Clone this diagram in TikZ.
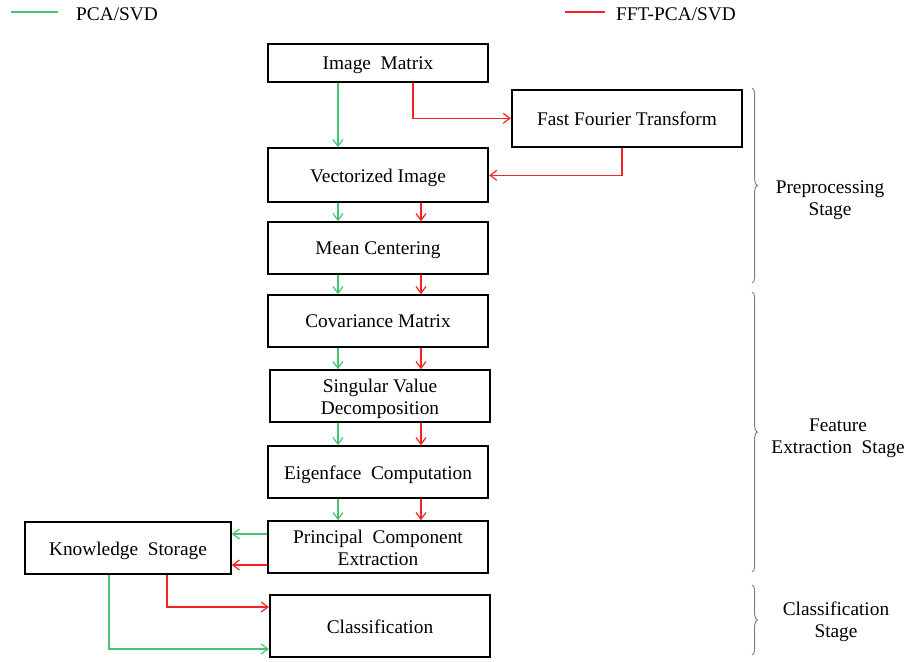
\documentclass[tikz,border=0pt]{standalone}
\usepackage{fontspec}
\setmainfont{Liberation Serif}
\usetikzlibrary{decorations.pathreplacing,arrows.meta}

\definecolor{pcagreen}{RGB}{70,195,115}
\definecolor{fftred}{RGB}{245,35,35}

\begin{document}
\begin{tikzpicture}[x=0.75pt, y=-0.75pt, font=\fontsize{14.5}{16.5}\selectfont,
	box/.style={draw, line width=1.7pt, minimum width=165pt, minimum height=39pt, align=center, inner sep=2pt, text depth=0pt, yshift=-1pt},
	tip/.style={-{Straight Barb[length=5pt, width=7.5pt]}},
	pca/.style={color=pcagreen, line width=0.9pt},
	fft/.style={color=fftred, line width=0.9pt},
	stage/.style={draw=gray, line width=0.7pt, decorate, decoration={brace, amplitude=4pt}}]
	\useasboundingbox (0,0) rectangle (906,661);
	% legend
	\coordinate (lg1) at (11,12); \coordinate (lg2) at (58,12);
	\coordinate (lr1) at (565,12); \coordinate (lr2) at (605,12);
	\draw[pca] (lg1) -- (lg2);
	\draw[fft] (lr1) -- (lr2);
	\node (lgt) at (117,14) {PCA/SVD};
	\node (lrt) at (676,14) {FFT-PCA/SVD};
	% boxes
	\node[box, minimum height=28.5pt] (img) at (378,62) {Image\ \ Matrix};
	\node[box, minimum width=172.5pt, minimum height=43pt] (fftb) at (627,117) {Fast Fourier Transform};
	\node[box, minimum height=40.5pt] (vec) at (378,174) {Vectorized Image};
	\node[box] (mean) at (378,247) {Mean Centering};
	\node[box] (cov) at (378,320) {Covariance Matrix};
	\node[box] (svd) at (380,395) {Singular Value\\Decomposition};
	\node[box] (eig) at (378,471) {Eigenface\ \ Computation};
	\node[box] (pce) at (378,546) {Principal\ \ Component\\Extraction};
	\node[box, minimum width=154pt] (know) at (128,547) {Knowledge\ \ Storage};
	\node[box, minimum height=46.5pt] (cls) at (380,625) {Classification};
	% helper points for the connectors
	\coordinate (gx) at (338,0);
	\coordinate (rx) at (421,0);
	\coordinate (rf) at (413,0);
	\coordinate (rb) at (622,0);
	\coordinate (gk) at (0,534);
	\coordinate (rk) at (0,565);
	\coordinate (kr) at (167,607);
	\coordinate (kg) at (109,649);
	% PCA/SVD path
	\path[tip, pca]
		(img.south -| gx) edge (vec.north -| gx)
		(vec.south -| gx) edge (mean.north -| gx)
		(mean.south -| gx) edge (cov.north -| gx)
		(cov.south -| gx) edge (svd.north -| gx)
		(svd.south -| gx) edge (eig.north -| gx)
		(eig.south -| gx) edge (pce.north -| gx)
		(pce.west |- gk) edge (know.east |- gk);
	\draw[tip, pca] (know.south -| kg) |- (cls.west |- kg);
	% FFT-PCA/SVD path
	\draw[tip, fft] (img.south -| rf) |- (fftb.west);
	\draw[tip, fft] (fftb.south -| rb) |- (vec.east);
	\path[tip, fft]
		(vec.south -| rx) edge (mean.north -| rx)
		(mean.south -| rx) edge (cov.north -| rx)
		(cov.south -| rx) edge (svd.north -| rx)
		(svd.south -| rx) edge (eig.north -| rx)
		(eig.south -| rx) edge (pce.north -| rx)
		(pce.west |- rk) edge (know.east |- rk);
	\draw[tip, fft] (know.south -| kr) |- (cls.west |- kr);
	% stages
	\coordinate (s1a) at (752,88); \coordinate (s1b) at (752,283);
	\coordinate (s2a) at (752,292); \coordinate (s2b) at (752,572);
	\coordinate (s3a) at (752,585); \coordinate (s3b) at (752,655);
	\draw[stage] (s1a) -- (s1b);
	\draw[stage] (s2a) -- (s2b);
	\draw[stage] (s3a) -- (s3b);
	\node[align=center] (pre) at (830,200) {Preprocessing\\Stage};
	\node[align=center] (feat) at (838,438) {Feature\\Extraction\ \ Stage};
	\node[align=center] (clst) at (836,622) {Classification\\Stage};
\end{tikzpicture}
\end{document}
